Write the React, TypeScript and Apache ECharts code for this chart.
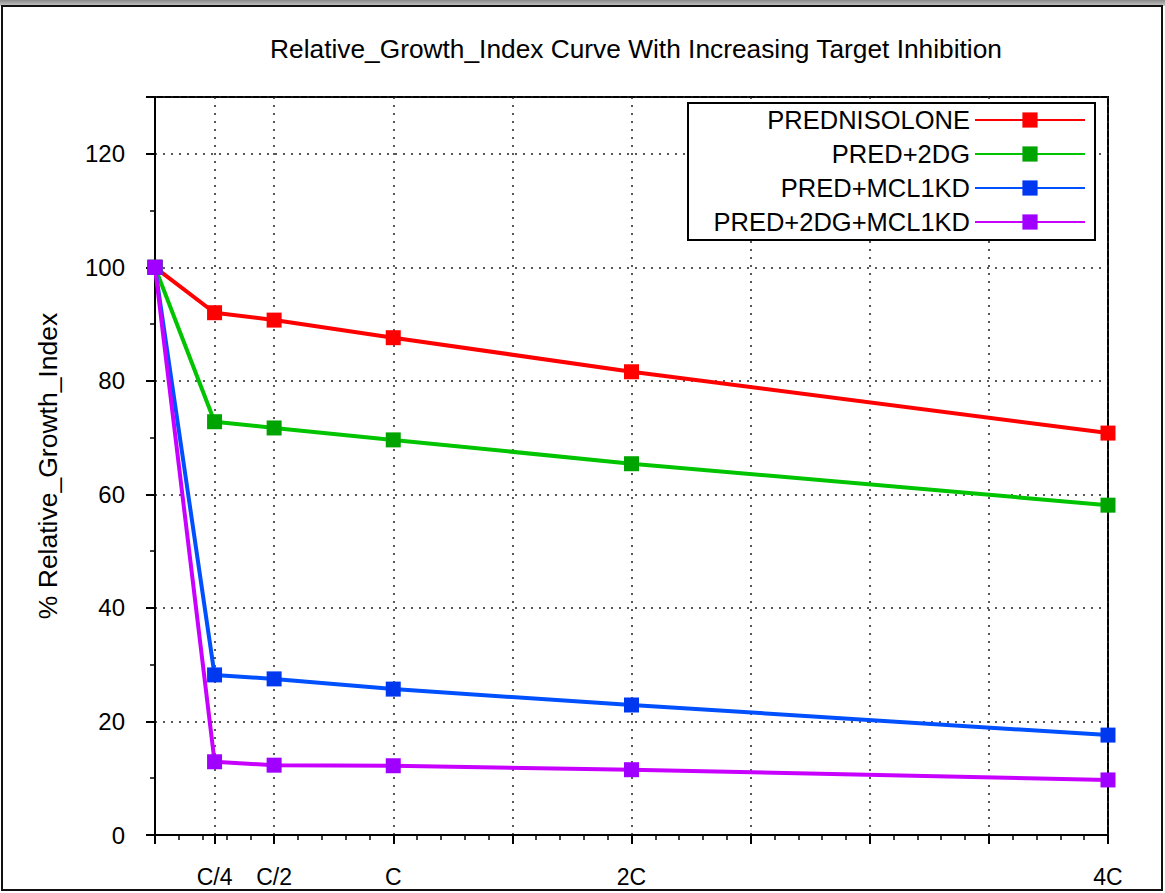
import React, { useEffect, useRef } from "react";
import * as echarts from "echarts";

// Dose levels (multiples of C) and their axis labels
const doseValues = [0, 0.25, 0.5, 1, 2, 4];
const doseLabels: Record<string, string> = { "0.25": "C/4", "0.5": "C/2", "1": "C", "2": "2C", "4": "4C" };
const doseTickValues = [0, 0.25, 0.5, 1, 1.5, 2, 2.5, 3, 3.5, 4];
const doseLabelValues = [0.25, 0.5, 1, 2, 4];

// % Relative growth index per treatment
const seriesNames = ["PREDNISOLONE", "PRED+2DG", "PRED+MCL1KD", "PRED+2DG+MCL1KD"];
const prednisolone = [100, 92.0, 90.7, 87.6, 81.6, 70.8];
const pred2dg = [100, 72.8, 71.7, 69.6, 65.4, 58.1];
const predMcl1kd = [100, 28.2, 27.5, 25.7, 22.9, 17.6];
const pred2dgMcl1kd = [100, 12.9, 12.3, 12.2, 11.5, 9.7];

const lineColors = ["#ff0000", "#00c400", "#0050ff", "#c800ff"];
const markerColors = ["#ff0000", "#00a400", "#0038f0", "#a000ff"];

const FONT = "'Liberation Sans', Arial, sans-serif";

export default function App() {
  const ref = useRef<HTMLDivElement>(null);

  useEffect(() => {
    if (!ref.current) return;
    const chart = echarts.init(ref.current, null, { renderer: "svg" });
    const allValues = [prednisolone, pred2dg, predMcl1kd, pred2dgMcl1kd];

    const legendRowsY = [120, 154, 188, 222];

    const option: any = {
      animation: false,
      backgroundColor: "#ffffff",
      textStyle: { fontFamily: FONT },
      title: {
        text: "Relative_Growth_Index Curve With Increasing Target Inhibition",
        left: 631,
        top: 31,
        textAlign: "center",
        textStyle: { fontFamily: FONT, fontSize: 26.3, fontWeight: "normal", color: "#000" },
      },
      grid: {
        left: 155,
        right: 57,
        top: 97,
        bottom: 58,
        show: true,
        borderColor: "#000",
        borderWidth: 2,
        backgroundColor: "transparent",
      },
      legend: seriesNames.map((name, i) => ({
        data: [name],
        orient: "vertical",
        align: "right",
        right: 79,
        top: legendRowsY[i] - 13,
        padding: 0,
        itemWidth: 110,
        itemHeight: 19,
        z: 5,
        selectedMode: false,
        textStyle: { fontFamily: FONT, fontSize: 25.5, color: "#000", lineHeight: 26 },
      })),
      xAxis: {
        type: "value",
        min: 0,
        max: 4,
        interval: 0.5,
        axisLine: { show: true, onZero: false, lineStyle: { color: "#000", width: 2 } },
        axisTick: {
          show: true,
          length: 9,
          customValues: doseTickValues,
          lineStyle: { color: "#000", width: 2 },
        },
        minorTick: { show: true, splitNumber: 5, length: 5, lineStyle: { color: "#000", width: 1.5 } },
        axisLabel: {
          customValues: doseLabelValues,
          margin: 30,
          fontSize: 23,
          color: "#000",
          fontFamily: FONT,
          formatter: (v: number) => doseLabels[String(v)] ?? "",
        },
        splitLine: { show: true, lineStyle: { color: "#222", width: 1.5, type: [2, 6] } },
      },
      yAxis: {
        type: "value",
        min: 0,
        max: 130,
        interval: 20,
        name: "% Relative_Growth_Index",
        nameLocation: "middle",
        nameRotate: 90,
        nameGap: 94,
        nameTextStyle: { fontFamily: FONT, fontSize: 26.5, color: "#000" },
        axisLine: { show: true, lineStyle: { color: "#000", width: 2 } },
        axisTick: { show: true, length: 9, lineStyle: { color: "#000", width: 2 } },
        minorTick: { show: true, splitNumber: 2, length: 5, lineStyle: { color: "#000", width: 1.5 } },
        axisLabel: {
          showMaxLabel: false,
          margin: 30,
          fontSize: 24,
          color: "#000",
          fontFamily: FONT,
        },
        splitLine: { show: true, lineStyle: { color: "#222", width: 1.5, type: [2, 6] } },
      },
      series: seriesNames.map((name, i) => ({
        name,
        type: "line",
        data: doseValues.map((x, j) => [x, allValues[i][j]]),
        symbol: "rect",
        symbolSize: 15,
        clip: false,
        lineStyle: { color: lineColors[i], width: 4 },
        itemStyle: { color: markerColors[i] },
        z: 2 + i,
      })),
      graphic: [
        // window shading along the top edge
        {
          type: "rect",
          shape: { x: 0, y: 0, width: 1165, height: 6 },
          style: {
            fill: new echarts.graphic.LinearGradient(0, 0, 0, 1, [
              { offset: 0, color: "#8a8a8a" },
              { offset: 1, color: "#c8c8c8" },
            ]),
          },
          z: 1,
        },
        // outer frame
        {
          type: "rect",
          shape: { x: 2, y: 6, width: 1160, height: 884 },
          style: { fill: "none", stroke: "#111", lineWidth: 2 },
          z: 1,
        },
        // legend box
        {
          type: "rect",
          shape: { x: 688, y: 103, width: 407, height: 137 },
          style: { fill: "#fff", stroke: "#000", lineWidth: 2 },
          z: 4,
        },
      ],
    };

    chart.setOption(option);
    return () => chart.dispose();
  }, []);

  return (
    <div
      ref={ref}
      style={{ position: "fixed", left: 0, top: 0, width: 1165, height: 893, background: "#fff" }}
    />
  );
}
